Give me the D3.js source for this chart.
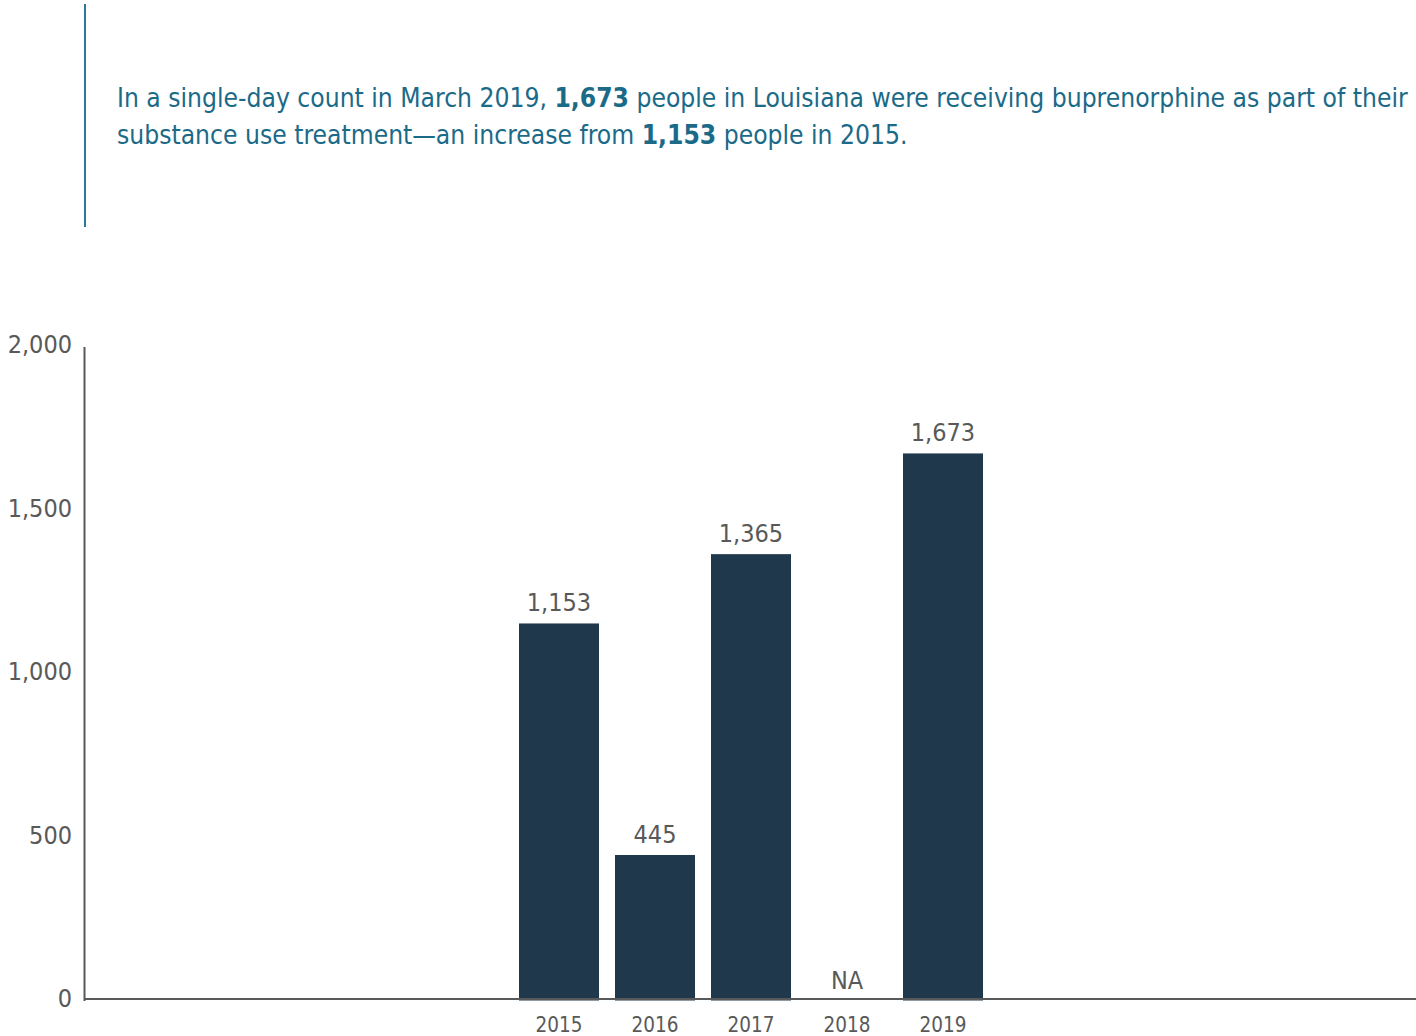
<!DOCTYPE html>
<html>
<head>
<meta charset="utf-8">
<script src="https://cdn.jsdelivr.net/npm/d3@7"></script>
<style>
  html, body { margin: 0; padding: 0; background: #fff; }
  svg { display: block; }
  text { font-family: "DejaVu Sans Condensed", "DejaVu Sans", sans-serif; }
</style>
</head>
<body>
<svg id="chart" width="1416" height="1036"></svg>
<script>
// Single-day buprenorphine counts, Louisiana
const years = ["2015", "2016", "2017", "2018", "2019"];
const patients = [1153, 445, 1365, null, 1673];
const yTicks = [0, 500, 1000, 1500, 2000];
const headline = [
  [{t: "In a single-day count in March 2019, "}, {t: "1,673", b: true}, {t: " people in Louisiana were receiving buprenorphine as part of their"}],
  [{t: "substance use treatment\u2014an increase from "}, {t: "1,153", b: true}, {t: " people in 2015."}]
];

const svg = d3.select("#chart");
const fmt = d3.format(",");
const textColor = "#1b6a88";
const axisColor = "#595959";
const barColor = "#1f384b";
const fontStack = "'DejaVu Sans Condensed', 'DejaVu Sans', sans-serif";

// Headline block with accent rule
svg.append("line")
  .attr("x1", 85).attr("x2", 85).attr("y1", 4).attr("y2", 227)
  .attr("stroke", "#2b7a9b").attr("stroke-width", 2);

const head = svg.append("text")
  .attr("x", 117).attr("font-size", 26.2).attr("fill", textColor);
headline.forEach((line, i) => {
  line.forEach((seg, j) => {
    const ts = head.append("tspan").text(seg.t)
      .attr("font-weight", seg.b ? "bold" : "normal");
    if (j === 0) ts.attr("x", 117).attr("y", 107 + i * 37);
  });
});

// Scales
const x = d3.scaleBand().domain(years).range([511, 991])
  .paddingInner(1 / 6).paddingOuter(1 / 12);
const y = d3.scaleLinear().domain([0, 2000]).range([1000.5, 346.5]);

// Y axis
const yAxis = svg.append("g").attr("transform", "translate(84,0)")
  .call(d3.axisLeft(y).tickValues(yTicks).tickFormat(fmt).tickSize(0).tickPadding(12));
yAxis.select(".domain").attr("stroke", axisColor).attr("stroke-width", 2);
yAxis.selectAll("text").attr("font-size", 25).attr("fill", axisColor)
  .attr("font-family", fontStack).attr("dy", "0.24em");

// Bars
const data = years.map((yr, i) => ({year: yr, value: patients[i]}));
svg.append("g").selectAll("rect")
  .data(data.filter(d => d.value != null))
  .join("rect")
  .attr("x", d => x(d.year))
  .attr("width", x.bandwidth())
  .attr("y", d => y(d.value))
  .attr("height", d => y(0) - y(d.value))
  .attr("fill", barColor);

// Value labels
svg.append("g").selectAll("text")
  .data(data)
  .join("text")
  .attr("x", d => x(d.year) + x.bandwidth() / 2)
  .attr("y", d => (d.value != null ? y(d.value) : y(0)) - 12)
  .attr("text-anchor", "middle")
  .attr("font-size", 25)
  .attr("fill", axisColor)
  .text(d => d.value != null ? fmt(d.value) : "NA");

// X axis
const xAxis = svg.append("g").attr("transform", "translate(0,999)")
  .call(d3.axisBottom(x).tickSize(0).tickPadding(18));
xAxis.select(".domain").remove();
svg.append("line")
  .attr("x1", 84).attr("x2", 1416).attr("y1", 999).attr("y2", 999)
  .attr("stroke", axisColor).attr("stroke-width", 2);
xAxis.selectAll("text").attr("font-size", 20.5).attr("fill", axisColor)
  .attr("font-family", fontStack);
</script>
</body>
</html>
